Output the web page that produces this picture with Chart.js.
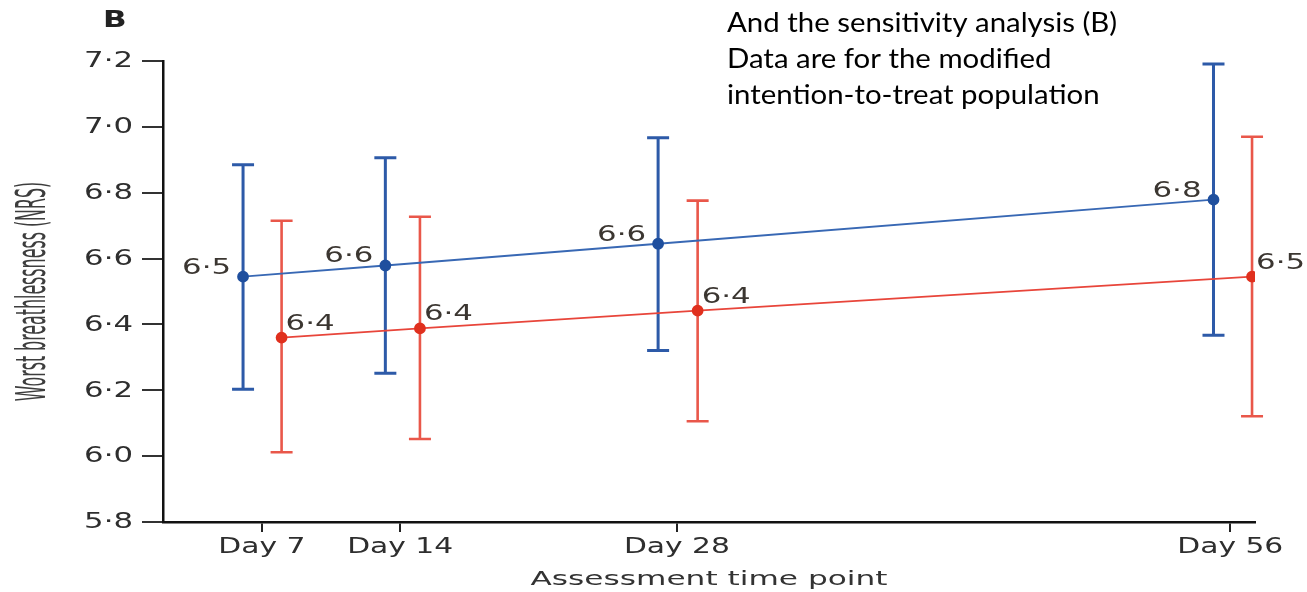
<!DOCTYPE html>
<html>
<head>
<meta charset="utf-8">
<script src="https://cdn.jsdelivr.net/npm/chart.js@4.4.1/dist/chart.umd.min.js"></script>
<style>
  html, body { margin: 0; padding: 0; background: #fff; }
  #wrap { width: 1307px; height: 592px; }
</style>
</head>
<body>
<div id="wrap"><canvas id="chart" width="1307" height="592"></canvas></div>
<script>
// Assessment days shown on the x axis
const tickDays = [7, 14, 28, 56];
const tickLabels = ["Day 7", "Day 14", "Day 28", "Day 56"];

// Blue group, plotted just left of each day
const blueDays = [6.05, 13.25, 27.05, 55.15];
const blueMeans = [6.545, 6.579, 6.645, 6.779];
const blueLow = [6.203, 6.252, 6.321, 6.367];
const blueHigh = [6.885, 6.906, 6.967, 7.191];
const blueLabels = ["6·5", "6·6", "6·6", "6·8"];

// Red group, plotted just right of each day
const redDays = [8.0, 15.0, 29.05, 57.1];
const redMeans = [6.36, 6.388, 6.442, 6.545];
const redLow = [6.012, 6.052, 6.106, 6.121];
const redHigh = [6.715, 6.727, 6.776, 6.970];
const redLabels = ["6·4", "6·4", "6·4", "6·5"];

const noteLines = [
  "And the sensitivity analysis (B)",
  "Data are for the modified",
  "intention-to-treat population"
];

let toPoints = function(xs, ys) {
  return xs.map((x, i) => ({ x: x, y: ys[i] }));
};

let yTickText = v => v.toFixed(1).replace(".", "·");
let xTickText = v => tickLabels[tickDays.indexOf(v)];

// draw text squeezed or stretched along its reading direction
let stretchText = function(ctx, text, x, y, sx, align) {
  ctx.save();
  ctx.translate(x, y);
  ctx.scale(sx, 1);
  ctx.textAlign = align;
  ctx.fillText(text, 0, 0);
  ctx.restore();
};

const errorBars = {
  id: "errorBars",
  beforeDatasetsDraw(chart) {
    let ctx = chart.ctx;
    let yScale = chart.scales.y;
    chart.data.datasets.forEach((ds, di) => {
      let meta = chart.getDatasetMeta(di);
      ctx.save();
      ctx.strokeStyle = ds.barColor;
      ctx.lineWidth = ds.barWidth;
      meta.data.forEach((pt, i) => {
        let top = yScale.getPixelForValue(ds.high[i]);
        let bot = yScale.getPixelForValue(ds.low[i]);
        ctx.beginPath();
        ctx.moveTo(pt.x, top);
        ctx.lineTo(pt.x, bot);
        ctx.moveTo(pt.x - 11, top);
        ctx.lineTo(pt.x + 11, top);
        ctx.moveTo(pt.x - 11, bot);
        ctx.lineTo(pt.x + 11, bot);
        ctx.stroke();
      });
      ctx.restore();
    });
  }
};

const texts = {
  id: "texts",
  afterDraw(chart) {
    let ctx = chart.ctx;
    let area = chart.chartArea;
    let xScale = chart.scales.x;
    let yScale = chart.scales.y;
    ctx.save();
    ctx.textBaseline = "alphabetic";

    // tick labels, wide like the picture
    ctx.font = "20.5px 'DejaVu Sans'";
    ctx.fillStyle = "#2e2e2e";
    for (let t of yScale.ticks) {
      let y = yScale.getPixelForValue(t.value);
      ctx.textBaseline = "middle";
      stretchText(ctx, yTickText(t.value), area.left - 30, y + 1, 1.5, "right");
    }
    ctx.textBaseline = "alphabetic";
    for (let t of xScale.ticks) {
      let x = xScale.getPixelForValue(t.value);
      stretchText(ctx, xTickText(t.value), x, area.bottom + 31, 1.45, "center");
    }

    // value labels next to each point
    ctx.font = "22px 'DejaVu Sans'";
    ctx.fillStyle = "#3b3631";
    chart.data.datasets.forEach((ds, di) => {
      let meta = chart.getDatasetMeta(di);
      meta.data.forEach((pt, i) => {
        if (ds.labelSide == "left") {
          stretchText(ctx, ds.valueLabels[i], pt.x - 12, pt.y - 3, 1.4, "right");
        } else {
          stretchText(ctx, ds.valueLabels[i], pt.x + 4, pt.y - 8, 1.4, "left");
        }
      });
    });

    // panel letter
    ctx.font = "bold 23px 'DejaVu Sans'";
    ctx.fillStyle = "#222";
    stretchText(ctx, "B", 103, 27, 1.35, "left");

    // x axis title
    ctx.font = "19.5px 'DejaVu Sans'";
    ctx.fillStyle = "#333";
    stretchText(ctx, "Assessment time point", (area.left + area.right) / 2, area.bottom + 63, 1.6, "center");

    // y axis title, tall and narrow
    ctx.save();
    ctx.translate(45, (area.top + area.bottom) / 2);
    ctx.rotate(-Math.PI / 2);
    ctx.font = "40px 'DejaVu Sans Condensed', 'DejaVu Sans'";
    ctx.fillStyle = "#3d3d3d";
    stretchText(ctx, "Worst breathlessness (NRS)", 0, 0, 0.44, "center");
    ctx.restore();

    // note in the top right
    ctx.font = "26px Lato";
    ctx.fillStyle = "#000";
    noteLines.forEach((line, i) => {
      stretchText(ctx, line, 727, 32 + i * 36, 1.13, "left");
    });
    ctx.restore();
  }
};

new Chart(document.getElementById("chart"), {
  type: "scatter",
  data: {
    datasets: [
      {
        data: toPoints(blueDays, blueMeans),
        low: blueLow,
        high: blueHigh,
        valueLabels: blueLabels,
        labelSide: "left",
        showLine: true,
        borderColor: "#3868b4",
        borderWidth: 1.8,
        pointRadius: 5,
        pointBackgroundColor: "#1f4f9e",
        pointBorderColor: "#1f4f9e",
        barColor: "#2d5aa8",
        barWidth: 3
      },
      {
        data: toPoints(redDays, redMeans),
        low: redLow,
        high: redHigh,
        valueLabels: redLabels,
        labelSide: "right",
        showLine: true,
        borderColor: "#e8453a",
        borderWidth: 1.8,
        pointRadius: 5,
        pointBackgroundColor: "#e0301e",
        pointBorderColor: "#e0301e",
        barColor: "#e9574a",
        barWidth: 2.6
      }
    ]
  },
  options: {
    responsive: false,
    animation: false,
    layout: { padding: { top: 61, right: 52, left: 0, bottom: 0 } },
    plugins: { legend: { display: false }, tooltip: { enabled: false } },
    scales: {
      x: {
        type: "linear",
        min: 2,
        max: 57.25,
        afterBuildTicks: function(scale) {
          scale.ticks = tickDays.map(v => ({ value: v }));
        },
        afterFit: function(scale) { scale.height = 70; },
        ticks: { display: false, callback: xTickText, autoSkip: false },
        grid: { drawOnChartArea: false, tickLength: 10, color: "#222", lineWidth: 2 },
        border: { color: "#111", width: 2.5 }
      },
      y: {
        min: 5.8,
        max: 7.2,
        afterFit: function(scale) { scale.width = 163; },
        ticks: { display: false, stepSize: 0.2, callback: yTickText },
        grid: { drawOnChartArea: false, tickLength: 21, color: "#333", lineWidth: 2 },
        border: { color: "#111", width: 2.5 }
      }
    }
  },
  plugins: [errorBars, texts]
});
</script>
</body>
</html>
